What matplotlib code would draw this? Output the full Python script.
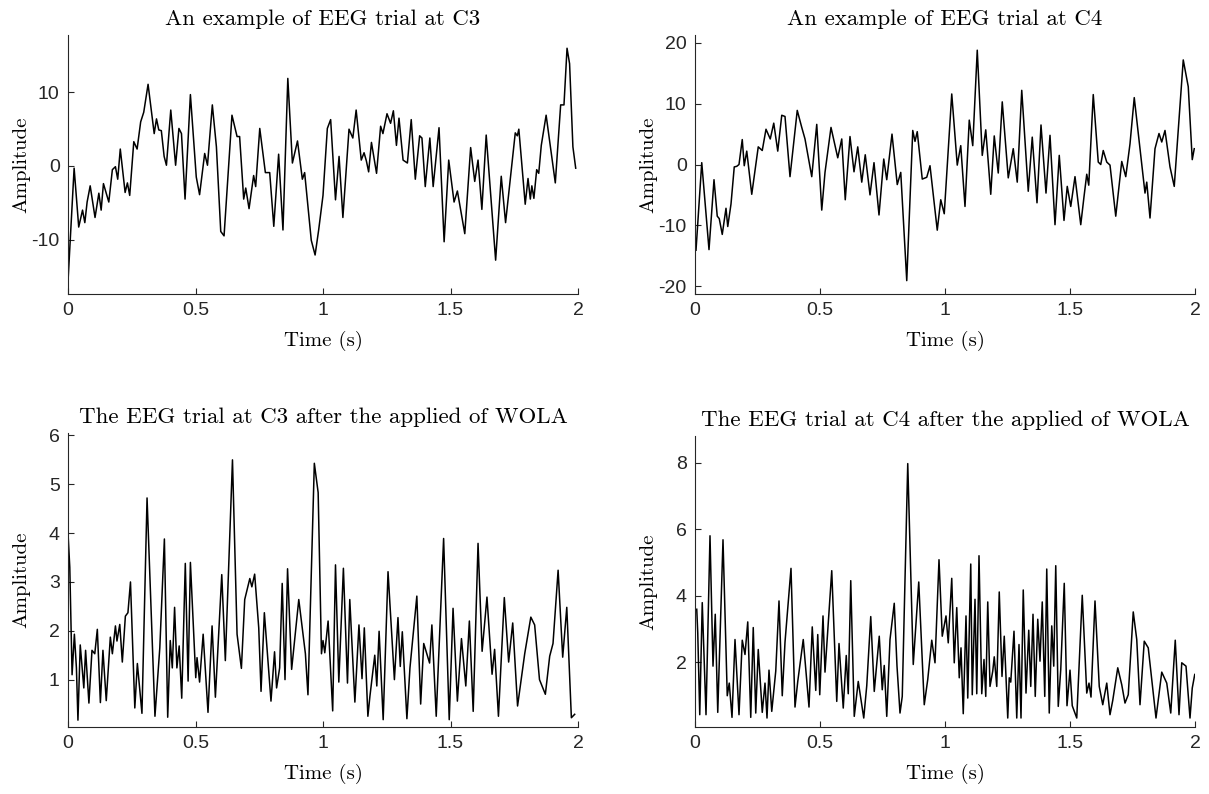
"""
EEG trials at C3/C4, raw and after WOLA, MATLAB-like 2x2 figure.
"""

import matplotlib
matplotlib.use("Agg")
import matplotlib.pyplot as plt
import numpy as np

W, H = 1209, 794

# (time s, amplitude), peaks and troughs
c3_raw = [
    (0.000, -15.7), (0.024, -0.3), (0.042, -8.3), (0.057, -6.0), (0.066, -7.7), (0.075, -4.9),
    (0.087, -2.7), (0.106, -7.0), (0.121, -3.7), (0.130, -6.0), (0.139, -2.4), (0.160, -4.9),
    (0.174, -0.5), (0.186, -0.1), (0.195, -1.8), (0.205, 2.3), (0.224, -3.6), (0.233, -2.3),
    (0.242, -4.0), (0.258, 3.3), (0.271, 2.3), (0.285, 6.0), (0.297, 7.3), (0.314, 11.1),
    (0.338, 4.4), (0.347, 6.4), (0.356, 4.9), (0.366, 4.8), (0.377, 1.3), (0.386, 0.1),
    (0.403, 7.6), (0.422, 0.1), (0.435, 5.1), (0.445, 4.4), (0.459, -4.5), (0.480, 9.7),
    (0.503, -1.5), (0.516, -3.9), (0.536, 1.7), (0.547, 0.1), (0.566, 8.3), (0.582, 2.6),
    (0.599, -8.9), (0.612, -9.5), (0.643, 6.9), (0.663, 4.0), (0.673, 4.0), (0.689, -4.5),
    (0.697, -3.0), (0.710, -5.8), (0.728, -1.3), (0.736, -2.8), (0.752, 5.1), (0.774, -0.9),
    (0.791, -0.9), (0.807, -8.2), (0.826, 1.6), (0.843, -8.7), (0.862, 11.9), (0.880, 0.4),
    (0.900, 3.4), (0.919, -1.8), (0.928, -0.9), (0.954, -10.1), (0.969, -12.1), (0.983, -8.7),
    (1.000, -4.0), (1.017, 5.1), (1.030, 6.3), (1.049, -4.6), (1.063, 1.3), (1.078, -7.0),
    (1.102, 5.0), (1.117, 3.8), (1.130, 7.6), (1.150, 0.8), (1.161, 1.8), (1.170, 0.7),
    (1.179, -0.8), (1.190, 3.2), (1.210, -1.0), (1.226, 5.4), (1.235, 4.4), (1.251, 7.1),
    (1.265, 5.8), (1.276, 7.5), (1.288, 2.8), (1.298, 6.5), (1.314, 0.8), (1.331, 0.4),
    (1.346, 6.3), (1.362, -1.8), (1.379, 4.1), (1.388, 3.8), (1.401, -2.8), (1.419, 3.8),
    (1.432, -2.8), (1.455, 5.2), (1.475, -10.3), (1.493, 0.8), (1.514, -4.9), (1.527, -3.4),
    (1.556, -9.2), (1.579, 2.5), (1.595, -2.1), (1.608, 0.8), (1.623, -5.9), (1.640, 4.2),
    (1.677, -12.8), (1.699, -1.4), (1.716, -7.7), (1.738, -0.6), (1.754, 4.5), (1.762, 4.1),
    (1.768, 5.0), (1.793, -5.2), (1.804, -1.7), (1.813, -4.5), (1.819, -2.7), (1.827, -4.4),
    (1.838, -0.5), (1.846, -1.0), (1.856, 2.8), (1.875, 6.9), (1.911, -2.3), (1.932, 8.3),
    (1.945, 8.3), (1.957, 16.0), (1.967, 13.9), (1.980, 2.6), (1.991, -0.3),
]

c4_raw = [
    (0.004, -14.1), (0.027, 0.3), (0.056, -14.0), (0.076, -2.5), (0.089, -8.5), (0.097, -8.9),
    (0.109, -11.5), (0.124, -7.2), (0.131, -10.2), (0.144, -6.5), (0.157, -0.4), (0.167, -0.3),
    (0.176, 0.0), (0.189, 4.1), (0.197, -0.2), (0.207, 2.2), (0.227, -4.9), (0.253, 2.9),
    (0.269, 2.3), (0.284, 5.8), (0.301, 4.2), (0.315, 6.8), (0.331, 2.2), (0.347, 8.1),
    (0.360, 7.9), (0.380, -2.0), (0.409, 8.9), (0.427, 6.1), (0.440, 4.2), (0.467, -2.0),
    (0.487, 6.6), (0.507, -7.5), (0.520, -1.3), (0.544, 6.1), (0.571, 1.1), (0.587, 4.2),
    (0.601, -5.8), (0.620, 4.6), (0.636, -1.2), (0.651, 2.9), (0.667, -2.9), (0.681, 1.6),
    (0.700, -5.0), (0.716, 0.3), (0.736, -8.3), (0.755, 0.9), (0.767, -2.5), (0.788, 5.0),
    (0.809, -3.3), (0.823, -1.3), (0.847, -19.1), (0.871, 5.6), (0.880, 3.8), (0.889, 5.4),
    (0.909, -2.4), (0.927, -2.1), (0.940, -0.2), (0.969, -10.8), (0.983, -5.8), (0.997, -8.1),
    (1.027, 11.6), (1.049, -0.1), (1.063, 3.1), (1.080, -6.9), (1.097, 7.3), (1.111, 3.1),
    (1.129, 18.8), (1.149, 1.5), (1.163, 5.7), (1.183, -4.9), (1.197, 4.7), (1.213, -1.4),
    (1.229, 10.3), (1.253, -2.2), (1.273, 2.6), (1.289, -2.9), (1.307, 12.2), (1.333, -4.4),
    (1.349, 4.5), (1.368, -6.3), (1.384, 6.5), (1.404, -4.7), (1.420, 4.8), (1.440, -9.9),
    (1.457, 1.5), (1.476, -9.2), (1.489, -3.6), (1.503, -6.9), (1.520, -2.0), (1.543, -9.9),
    (1.556, -5.3), (1.567, -1.6), (1.575, -3.4), (1.593, 11.5), (1.613, 0.4), (1.623, 0.0),
    (1.633, 2.3), (1.647, 0.4), (1.660, -0.1), (1.683, -8.5), (1.707, 0.5), (1.723, -2.0),
    (1.740, 3.4), (1.757, 11.0), (1.780, 2.6), (1.800, -4.7), (1.807, -2.9), (1.820, -8.8),
    (1.840, 2.6), (1.856, 5.1), (1.867, 3.7), (1.880, 5.6), (1.900, -0.4), (1.917, -3.6),
    (1.953, 17.2), (1.973, 12.8), (1.989, 0.8), (1.997, 2.6),
]

c3_wola = [
    (0.000, 4.0), (0.007, 3.3), (0.016, 1.1), (0.025, 1.93), (0.033, 1.24), (0.039, 0.17),
    (0.048, 1.71), (0.062, 0.83), (0.069, 1.6), (0.082, 0.52), (0.094, 1.6), (0.105, 1.53),
    (0.115, 2.03), (0.127, 0.53), (0.137, 1.6), (0.150, 0.57), (0.166, 1.87), (0.174, 1.53),
    (0.186, 2.1), (0.192, 1.79), (0.203, 2.13), (0.213, 1.36), (0.225, 2.30), (0.235, 2.37),
    (0.245, 3.0), (0.262, 0.42), (0.272, 1.33), (0.290, 0.31), (0.310, 4.72), (0.341, 0.25),
    (0.360, 1.65), (0.378, 3.88), (0.391, 0.23), (0.401, 1.8), (0.409, 1.24), (0.418, 2.48),
    (0.427, 1.24), (0.436, 1.69), (0.446, 0.62), (0.460, 3.38), (0.471, 0.97), (0.480, 3.40),
    (0.501, 1.04), (0.506, 1.45), (0.516, 0.95), (0.530, 1.93), (0.549, 0.33), (0.565, 2.10),
    (0.578, 0.64), (0.603, 3.15), (0.617, 1.39), (0.645, 5.50), (0.663, 1.93), (0.680, 1.23),
    (0.693, 2.64), (0.713, 3.07), (0.721, 2.9), (0.732, 3.16), (0.748, 2.06), (0.757, 0.76),
    (0.770, 2.37), (0.796, 0.56), (0.810, 1.57), (0.818, 0.83), (0.830, 1.24), (0.840, 2.97),
    (0.851, 1.0), (0.861, 3.27), (0.877, 1.21), (0.905, 2.64), (0.931, 1.53), (0.941, 0.69),
    (0.966, 5.43), (0.981, 4.83), (0.994, 1.53), (1.000, 1.80), (1.007, 1.55), (1.020, 2.2),
    (1.038, 0.36), (1.049, 3.35), (1.062, 0.95), (1.080, 3.28), (1.096, 0.93), (1.105, 2.64),
    (1.125, 0.54), (1.141, 2.12), (1.153, 1.02), (1.162, 2.06), (1.176, 0.25), (1.184, 0.66),
    (1.203, 1.5), (1.211, 0.87), (1.220, 1.99), (1.236, 0.18), (1.255, 3.21), (1.280, 1.0),
    (1.294, 2.27), (1.303, 1.27), (1.311, 1.98), (1.329, 0.20), (1.341, 1.24), (1.368, 2.71),
    (1.383, 0.50), (1.395, 1.74), (1.418, 1.34), (1.427, 2.12), (1.444, 0.25), (1.473, 3.89),
    (1.495, 0.18), (1.510, 2.46), (1.527, 0.56), (1.543, 1.84), (1.560, 0.87), (1.574, 2.2),
    (1.589, 0.35), (1.608, 3.79), (1.624, 1.58), (1.643, 2.69), (1.663, 1.11), (1.673, 1.62),
    (1.688, 0.25), (1.711, 2.68), (1.728, 1.36), (1.744, 2.16), (1.763, 0.46), (1.791, 1.53),
    (1.815, 2.28), (1.830, 2.12), (1.849, 1.0), (1.872, 0.70), (1.889, 1.48), (1.902, 1.74),
    (1.922, 3.24), (1.940, 1.46), (1.956, 2.48), (1.974, 0.22), (1.987, 0.29),
]

c4_wola = [
    (0.007, 3.59), (0.011, 2.88), (0.019, 0.42), (0.029, 3.79), (0.044, 0.42), (0.060, 5.80),
    (0.072, 1.88), (0.081, 3.44), (0.091, 0.49), (0.112, 5.68), (0.129, 0.99), (0.137, 1.37),
    (0.148, 0.34), (0.160, 2.68), (0.176, 0.42), (0.189, 2.66), (0.200, 2.23), (0.211, 3.21),
    (0.223, 0.34), (0.233, 3.04), (0.243, 0.47), (0.253, 2.38), (0.269, 0.49), (0.280, 1.37),
    (0.288, 0.32), (0.296, 1.76), (0.307, 0.52), (0.323, 1.73), (0.336, 3.84), (0.349, 0.99),
    (0.360, 2.60), (0.384, 4.82), (0.400, 0.65), (0.411, 1.42), (0.433, 2.68), (0.456, 0.65),
    (0.469, 3.06), (0.483, 1.15), (0.491, 2.83), (0.499, 1.02), (0.512, 3.39), (0.520, 1.70),
    (0.547, 4.75), (0.567, 0.82), (0.576, 2.56), (0.593, 0.62), (0.605, 2.20), (0.613, 1.05),
    (0.623, 4.45), (0.637, 0.37), (0.653, 1.42), (0.675, 0.32), (0.687, 1.29), (0.703, 3.37),
    (0.717, 1.12), (0.737, 2.78), (0.749, 1.17), (0.757, 1.90), (0.767, 0.37), (0.780, 2.68),
    (0.797, 3.77), (0.808, 1.88), (0.820, 0.47), (0.829, 0.97), (0.851, 7.97), (0.873, 1.93),
    (0.895, 4.41), (0.917, 0.72), (0.931, 1.48), (0.947, 2.66), (0.960, 1.98), (0.976, 5.08),
    (0.989, 2.78), (1.004, 3.39), (1.013, 2.58), (1.027, 4.52), (1.037, 1.98), (1.047, 3.64),
    (1.057, 1.53), (1.064, 2.43), (1.073, 0.45), (1.084, 3.39), (1.091, 0.92), (1.103, 4.95),
    (1.109, 1.02), (1.120, 3.89), (1.127, 1.05), (1.136, 5.20), (1.147, 1.05), (1.156, 2.08),
    (1.163, 0.97), (1.171, 3.81), (1.180, 1.27), (1.191, 1.73), (1.197, 2.16), (1.207, 1.27),
    (1.217, 4.11), (1.228, 1.57), (1.237, 2.78), (1.251, 0.32), (1.257, 1.53), (1.263, 1.40),
    (1.276, 2.93), (1.287, 0.32), (1.296, 2.53), (1.304, 0.32), (1.313, 4.17), (1.324, 1.07),
    (1.335, 2.96), (1.343, 1.27), (1.352, 3.44), (1.361, 0.97), (1.371, 3.29), (1.380, 2.03),
    (1.389, 3.81), (1.399, 0.97), (1.407, 4.80), (1.417, 0.47), (1.427, 3.09), (1.435, 1.88),
    (1.443, 4.90), (1.453, 0.67), (1.463, 1.78), (1.477, 4.37), (1.488, 0.69), (1.500, 1.76),
    (1.509, 0.69), (1.527, 0.32), (1.549, 4.01), (1.567, 1.07), (1.576, 1.37), (1.584, 0.95),
    (1.600, 3.84), (1.617, 1.27), (1.631, 0.72), (1.647, 1.37), (1.660, 0.42), (1.671, 0.85),
    (1.691, 1.83), (1.707, 1.32), (1.720, 0.77), (1.733, 1.02), (1.753, 3.51), (1.767, 2.68),
    (1.780, 0.72), (1.797, 2.63), (1.813, 2.43), (1.844, 0.32), (1.867, 1.70), (1.887, 1.37),
    (1.903, 0.47), (1.921, 2.66), (1.936, 0.42), (1.947, 1.98), (1.964, 1.88), (1.980, 0.32),
    (1.989, 1.22), (1.999, 1.63),
]

titles = [
    "An example of EEG trial at C3",
    "An example of EEG trial at C4",
    "The EEG trial at C3 after the applied of WOLA",
    "The EEG trial at C4 after the applied of WOLA",
]
x_ticks = [0, 0.5, 1, 1.5, 2]
x_tick_labels = ["0", "0.5", "1", "1.5", "2"]
y_ticks = [[-10, 0, 10], [-20, -10, 0, 10, 20], [1, 2, 3, 4, 5, 6], [2, 4, 6, 8]]
y_lims = [(-17.4, 17.8), (-21.3, 21.3), (0.03, 6.05), (0.05, 8.8)]

# axes boxes in pixels: left, top, right, bottom
boxes = [(68, 35, 578, 294), (695, 35, 1195, 294), (68, 433, 578, 727), (695, 436, 1195, 727)]

AX_COLOR = "#262626"
SERIF = "cmr10"
TICK_FONT = "Liberation Sans"


def px_rect(left, top, right, bottom):
    return [left / W, 1 - bottom / H, (right - left) / W, (bottom - top) / H]


fig = plt.figure(figsize=(W / 100, H / 100), dpi=100)
fig.patch.set_facecolor("white")

series = [c3_raw, c4_raw, c3_wola, c4_wola]
for i, data in enumerate(series):
    box = boxes[i]
    ax = fig.add_axes(px_rect(*box))
    t, v = zip(*data)
    ax.plot(np.array(t), np.array(v), color="black", lw=1.1)

    ax.set_xlim(0, 2)
    ax.set_ylim(*y_lims[i])
    ax.set_xticks(x_ticks, x_tick_labels)
    ax.set_yticks(y_ticks[i], [str(k) for k in y_ticks[i]])
    for side in ("top", "right"):
        ax.spines[side].set_visible(False)
    for side in ("left", "bottom"):
        ax.spines[side].set_color(AX_COLOR)
        ax.spines[side].set_linewidth(0.8)
    ax.tick_params(direction="in", length=4, width=0.8, colors=AX_COLOR,
                   labelsize=14, pad=6)
    for lab in ax.get_xticklabels() + ax.get_yticklabels():
        lab.set_fontfamily(TICK_FONT)

    cx = (box[0] + box[2]) / 2
    cy = (box[1] + box[3]) / 2
    fig.text(cx / W, 1 - (box[1] - 16) / H, titles[i], ha="center", va="center",
             fontsize=16.5, family=SERIF, color="black")
    fig.text(cx / W, 1 - (box[3] + 47) / H, "Time (s)", ha="center", va="center",
             fontsize=15, family=SERIF, color="black")
    fig.text((box[0] - 47) / W, 1 - cy / H, "Amplitude", ha="center", va="center",
             rotation=90, fontsize=15, family=SERIF, color="black")

fig.savefig("out.png", dpi=100)
